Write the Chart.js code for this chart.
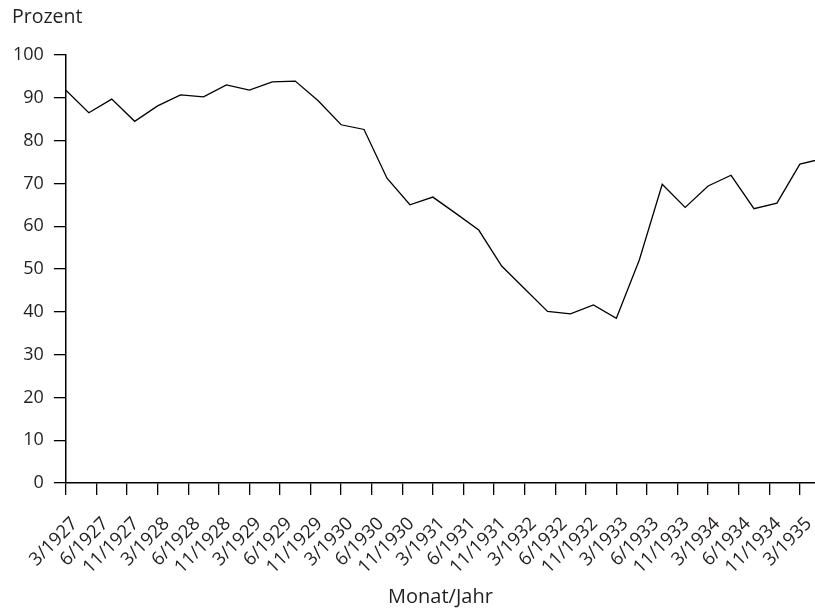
<!DOCTYPE html>
<html>
<head>
<meta charset="utf-8">
<script src="https://cdn.jsdelivr.net/npm/chart.js@4"></script>
<style>
  html, body { margin: 0; padding: 0; background: #fff; }
  #wrap { width: 815px; height: 608px; }
</style>
</head>
<body>
<div id="wrap"><canvas id="grafico"></canvas></div>
<script>
// Beschriftung der x-Achse (drei Marken pro Jahr)
const tickLabels = [
  '3/1927', '6/1927', '11/1927', '3/1928', '6/1928', '11/1928',
  '3/1929', '6/1929', '11/1929', '3/1930', '6/1930', '11/1930',
  '3/1931', '6/1931', '11/1931', '3/1932', '6/1932', '11/1932',
  '3/1933', '6/1933', '11/1933', '3/1934', '6/1934', '11/1934',
  '3/1935'
];
// Quartalswerte ab 3/1927 (in Prozent)
const quarterIndex = [
  0, 1, 2, 3, 4, 5, 6, 7, 8, 9, 10, 11, 12, 13, 14, 15, 16,
  17, 18, 19, 20, 21, 22, 23, 24, 25, 26, 27, 28, 29, 30, 31, 32, 33
];
const prozent = [
  91.8, 86.5, 89.7, 84.5, 88.1, 90.7, 90.2, 93.0, 91.8, 93.7, 93.9,
  89.3, 83.7, 82.6, 71.2, 65.0, 66.8, 63.0, 59.1, 50.7, 45.4, 40.1,
  39.5, 41.6, 38.5, 52.1, 69.8, 64.4, 69.4, 71.9, 64.1, 65.4, 74.5, 75.8
];
const yTicks = [0, 10, 20, 30, 40, 50, 60, 70, 80, 90, 100];

const schrift = "'Open Sans', 'Noto Sans', sans-serif";
const textFarbe = '#231f20';

const punkte = quarterIndex.map((q, i) => ({ x: q, y: prozent[i] }));

// Achsentitel "Prozent" oben links
const yTitel = {
  id: 'yTitel',
  afterDraw(chart) {
    const c = chart.ctx;
    c.save();
    c.fillStyle = textFarbe;
    c.font = '19.5px ' + schrift;
    c.textAlign = 'left';
    c.textBaseline = 'middle';
    c.fillText('Prozent', 12, 17);
    c.restore();
  }
};

new Chart(document.getElementById('grafico'), {
  type: 'line',
  data: {
    datasets: [{
      data: punkte,
      borderColor: '#000',
      borderWidth: 1.3,
      pointRadius: 0,
      tension: 0
    }]
  },
  options: {
    responsive: true,
    maintainAspectRatio: false,
    animation: false,
    layout: { padding: { left: 3, right: 0, top: 55, bottom: 0 } },
    plugins: {
      legend: { display: false },
      tooltip: { enabled: false }
    },
    scales: {
      x: {
        type: 'linear',
        min: 0,
        max: 32.66,
        afterBuildTicks: axis => {
          axis.ticks = tickLabels.map((l, i) => ({ value: i * 4 / 3 }));
        },
        // Plot reicht bis an den rechten Rand, feste Achsenhöhe
        afterFit: axis => {
          axis.paddingRight = 0;
          axis.height = 125;
        },
        grid: {
          drawOnChartArea: false,
          drawTicks: true,
          tickLength: 12,
          tickColor: '#000',
          lineWidth: 1.3
        },
        border: { display: true, color: '#000', width: 1.5 },
        ticks: {
          autoSkip: false,
          minRotation: 45,
          maxRotation: 45,
          padding: 18,
          labelOffset: 9,
          color: textFarbe,
          font: { family: schrift, size: 18.5 },
          callback: (v, i) => tickLabels[i]
        },
        title: {
          display: true,
          text: 'Monat/Jahr',
          color: textFarbe,
          font: { family: schrift, size: 20, lineHeight: 1.1 },
          padding: { top: 0, bottom: 0 }
        }
      },
      y: {
        min: 0,
        max: 100,
        afterBuildTicks: axis => {
          axis.ticks = yTicks.map(v => ({ value: v }));
        },
        grid: {
          drawOnChartArea: false,
          drawTicks: true,
          tickLength: 12,
          tickColor: '#000',
          lineWidth: 1.3
        },
        border: { display: true, color: '#000', width: 1.5 },
        ticks: {
          padding: 10,
          color: textFarbe,
          font: { family: schrift, size: 18 }
        }
      }
    }
  },
  plugins: [yTitel]
});
</script>
</body>
</html>
